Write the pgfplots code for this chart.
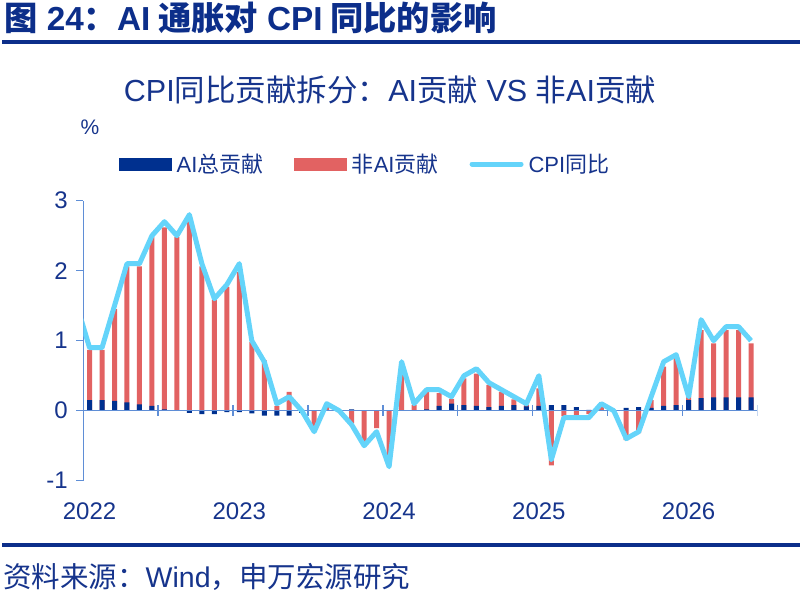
\documentclass[border=0pt]{standalone}
\usepackage{fontspec}
\setmainfont{Noto Sans CJK SC}
\newfontfamily\lat{Liberation Sans}
\usepackage{pgfplots}
\pgfplotsset{compat=1.18}
\usepackage{pgfplotstable}

\definecolor{titleblue}{RGB}{12,46,138}
\definecolor{txtblue}{RGB}{22,52,140}
\definecolor{axiscol}{RGB}{95,142,214}
\definecolor{aiblue}{RGB}{0,48,143}
\definecolor{nonaired}{RGB}{226,98,98}
\definecolor{cpicyan}{RGB}{100,212,250}

% CPI yoy (month index: 0 = 2022-01)
\pgfplotstableread{
i cpi
-1 1.5
0 0.9
1 0.9
2 1.5
3 2.1
4 2.1
5 2.5
6 2.7
7 2.5
8 2.8
9 2.1
10 1.6
11 1.8
12 2.1
13 1.0
14 0.7
15 0.1
16 0.2
17 0.0
18 -0.3
19 0.1
20 0.0
21 -0.2
22 -0.5
23 -0.3
24 -0.8
25 0.7
26 0.1
27 0.3
28 0.3
29 0.2
30 0.5
31 0.6
32 0.4
33 0.3
34 0.2
35 0.1
36 0.5
37 -0.7
38 -0.1
39 -0.1
40 -0.1
41 0.1
42 0.0
43 -0.4
44 -0.3
45 0.2
46 0.7
47 0.8
48 0.2
49 1.3
50 1.0
51 1.2
52 1.2
53 1.0
}\cpitable

% contributions: nonai = extent of red bar, ai = AI contribution
\pgfplotstableread{
i nonai ai
0 0.87 0.15
1 0.87 0.15
2 1.45 0.14
3 2.06 0.12
4 2.06 0.09
5 2.48 0.07
6 2.62 0.02
7 2.48 0.00
8 2.75 -0.03
9 2.06 -0.05
10 1.58 -0.05
11 1.77 -0.02
12 1.98 -0.02
13 0.98 -0.04
14 0.72 -0.07
15 0.07 -0.07
16 0.27 -0.07
17 0.02 -0.03
18 -0.25 0.00
19 0.05 0.00
20 -0.02 0.01
21 -0.18 0.02
22 -0.45 0.00
23 -0.25 0.00
24 -0.75 0.00
25 0.62 0.00
26 0.08 0.00
27 0.27 0.02
28 0.25 0.07
29 0.17 0.10
30 0.46 0.08
31 0.53 0.07
32 0.37 0.05
33 0.27 0.07
34 0.16 0.08
35 0.08 0.06
36 0.32 0.07
37 -0.78 0.08
38 -0.08 0.08
39 -0.13 0.05
40 -0.05 0.01
41 0.08 0.00
42 0.00 0.00
43 -0.42 0.04
44 -0.32 0.05
45 0.15 0.04
46 0.63 0.07
47 0.77 0.08
48 0.22 0.15
49 1.15 0.18
50 0.96 0.19
51 1.15 0.19
52 1.15 0.19
53 0.96 0.19
}\bartable

\begin{document}
\begin{tikzpicture}
\path[use as bounding box] (0,0) rectangle (801pt,600pt);
\node[anchor=base west, font=\fontsize{33.3}{33.3}\selectfont\bfseries, text=titleblue, inner sep=0pt] at (4pt,569pt) {图{\lat\bfseries{} 24}：{\lat\bfseries AI} 通胀对{\lat\bfseries{} CPI} 同比的影响};
\fill[titleblue] (2pt,556pt) rectangle (800pt,560pt);
\node[font=\fontsize{30.5}{30.5}\selectfont, text=txtblue, inner sep=0pt] at (390pt,510pt) {{\lat CPI}同比贡献拆分：{\lat AI}贡献{\lat{} VS }非{\lat AI}贡献};
\node[font=\lat\fontsize{21}{21}\selectfont, text=txtblue, inner sep=0pt] at (90pt,473pt) {\%};
\fill[titleblue] (2pt,53pt) rectangle (800pt,57pt);
\node[anchor=west, font=\fontsize{28.5}{28.5}\selectfont, text=txtblue, inner sep=0pt] at (3pt,23pt) {资料来源：{\lat Wind}，申万宏源研究};

\begin{axis}[
  at={(83.3pt,119.3pt)},
  scale only axis,
  width=674pt, height=280pt,
  xmin=-0.5, xmax=53.5, ymin=-1, ymax=3,
  axis y line*=left, axis x line*=bottom,
  x axis line style={draw=none},
  y axis line style={draw=axiscol, line width=1.5pt, -},
  xtick={0,12,24,36,48},
  xticklabels={2022,2023,2024,2025,2026},
  xtick style={draw=none},
  ytick={-1,0,1,2,3},
  yticklabels={-1,0,1,2,3},
  ytick style={draw=axiscol, line width=1.5pt},
  tick align=outside, major tick length=7pt,
  ticklabel style={font=\lat\fontsize{24}{24}\selectfont, text=txtblue},
  xticklabel style={yshift=-12pt},
  yticklabel style={xshift=-5pt},
  legend columns=3,
  legend style={draw=none, fill=none, inner sep=0pt, at={(0.053,1.131)}, anchor=west,
    font=\fontsize{22}{22}\selectfont, text=txtblue,
    /tikz/every odd column/.append style={column sep=3pt},
    /tikz/every even column/.append style={column sep=29pt}},
]
\addlegendimage{legend image code/.code={\fill[aiblue] (0pt,-6pt) rectangle (52pt,6pt);}}
\addlegendentry{{\lat AI}总贡献}
\addlegendimage{legend image code/.code={\fill[nonaired] (0pt,-6pt) rectangle (52pt,6pt);}}
\addlegendentry{非{\lat AI}贡献}
\addlegendimage{legend image code/.code={\draw[cpicyan, line width=5pt, line cap=round] (2.5pt,0pt) -- (51.5pt,0pt);}}
\addlegendentry{{\lat CPI}同比}

\addplot[ybar, bar width=5pt, bar shift=0pt, fill=nonaired, draw=none, forget plot] table[x=i, y=nonai] {\bartable};
\addplot[ybar, bar width=5pt, bar shift=0pt, fill=aiblue, draw=none, forget plot] table[x=i, y=ai] {\bartable};
\draw[axiscol, line width=1.5pt] (axis cs:-0.5,0) -- (axis cs:53.5,0);
\draw[axiscol, line width=1.5pt]
  (axis cs:-0.5,0.075) -- (axis cs:-0.5,-0.075)
  (axis cs:5.5,0.075) -- (axis cs:5.5,-0.075)
  (axis cs:11.5,0.075) -- (axis cs:11.5,-0.075)
  (axis cs:17.5,0.075) -- (axis cs:17.5,-0.075)
  (axis cs:23.5,0.075) -- (axis cs:23.5,-0.075)
  (axis cs:29.5,0.075) -- (axis cs:29.5,-0.075)
  (axis cs:35.5,0.075) -- (axis cs:35.5,-0.075)
  (axis cs:41.5,0.075) -- (axis cs:41.5,-0.075)
  (axis cs:47.5,0.075) -- (axis cs:47.5,-0.075)
  (axis cs:53.5,0.075) -- (axis cs:53.5,-0.075);
\addplot[cpicyan, line width=5pt, line join=round, mark=none, forget plot] table[x=i, y=cpi] {\cpitable};
\end{axis}
\end{tikzpicture}
\end{document}
